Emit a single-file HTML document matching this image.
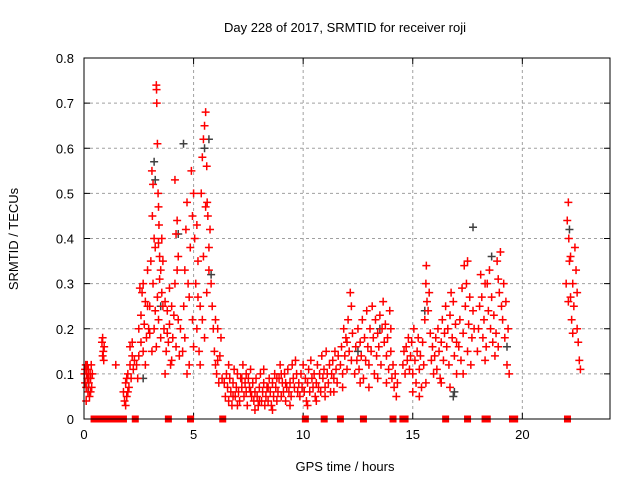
<!DOCTYPE html>
<html><head><meta charset="utf-8"><style>
html,body{margin:0;padding:0;background:#fff;}
svg{display:block;font-family:"Liberation Sans",sans-serif;}
</style></head><body>
<svg id="chart" width="640" height="480">
<rect width="640" height="480" fill="#fff"/>
<text x="345" y="32" text-anchor="middle" font-size="13">Day 228 of 2017, SRMTID for receiver roji</text>
<text x="345" y="471" text-anchor="middle" font-size="13">GPS time / hours</text>
<text transform="translate(18,239) rotate(-90)" text-anchor="middle" font-size="13">SRMTID / TECUs</text>
<g id="grid"></g>
<g id="ticks"></g>
<g id="black"></g>
<g id="red"></g>
<rect x="84" y="58" width="526" height="361" fill="none" stroke="#000" stroke-width="1"/>
</svg>
<script>
const xTicks=[0,5,10,15,20];
const yTicks=[0,0.1,0.2,0.3,0.4,0.5,0.6,0.7,0.8];
const yTickLabels=["0","0.1","0.2","0.3","0.4","0.5","0.6","0.7","0.8"];
const redPts=[0.02,.1,0.05,.08,0.08,.12,0.1,.07,0.12,.1,0.15,.09,0.18,.06,0.2,.11,0.22,.08,0.25,.05,0.28,.1,0.3,.09,0.33,.12,0.35,.07,0.38,.1,0.1,.04,0.05,.11,0.2,.09,0.3,.06,0.15,.12,
0.82,.17,0.85,.14,0.88,.15,0.9,.13,0.85,.18,0.92,.16,1.45,.12,
1.8,.06,1.85,.04,1.9,.08,1.95,.05,2.0,.1,2.05,.07,2.1,.12,2.15,.09,2.2,.14,2.25,.11,1.9,.03,2.0,.06,2.1,.16,2.2,.17,1.95,.09,2.3,.13,
2.4,.12,2.5,.2,2.55,.29,2.6,.17,2.65,.28,2.7,.15,2.75,.21,2.8,.26,2.85,.18,2.9,.25,2.5,.14,2.6,.23,2.7,.3,2.8,.12,2.9,.33,2.45,.09,2.95,.2,
3.0,.25,3.05,.35,3.1,.55,3.12,.45,3.15,.3,3.2,.4,3.25,.38,3.3,.74,3.31,.73,3.32,.7,3.35,.61,3.38,.5,3.4,.47,3.42,.43,3.45,.36,3.5,.33,3.55,.28,3.6,.25,3.2,.2,3.3,.16,3.4,.22,3.5,.18,3.35,.27,3.45,.31,3.25,.24,3.1,.15,3.55,.4,3.6,.35,3.15,.52,3.4,.39,3.0,.19,
3.65,.2,3.7,.26,3.75,.15,3.8,.24,3.85,.17,3.9,.21,3.95,.12,4.0,.25,4.05,.18,4.1,.23,4.15,.3,4.2,.41,4.25,.44,4.3,.36,4.35,.14,4.4,.2,3.7,.1,3.9,.29,4.0,.13,4.2,.16,4.3,.22,4.15,.53,4.25,.33,3.8,.19,
4.5,.15,4.55,.25,4.6,.18,4.65,.42,4.7,.48,4.75,.3,4.8,.12,4.85,.38,4.9,.55,4.95,.22,5.0,.5,4.6,.33,4.7,.1,4.8,.27,4.95,.45,5.0,.16,
5.05,.4,5.1,.3,5.15,.2,5.2,.35,5.25,.15,5.3,.25,5.35,.5,5.4,.58,5.45,.62,5.5,.65,5.55,.68,5.6,.56,5.62,.48,5.65,.45,5.7,.38,5.75,.42,5.8,.3,5.85,.25,5.9,.2,5.3,.12,5.4,.22,5.5,.18,5.6,.28,5.7,.33,5.2,.27,5.45,.36,5.55,.47,5.15,.43,
5.95,.15,6.0,.12,6.05,.1,6.1,.2,6.15,.08,6.2,.14,6.25,.18,6.3,.09,6.0,.22,6.1,.13,
6.4,.08,6.45,.05,6.5,.1,6.55,.07,6.6,.04,6.65,.09,6.7,.06,6.75,.03,6.8,.08,6.85,.11,6.9,.05,6.95,.07,7.0,.1,7.05,.06,7.1,.04,7.15,.09,7.2,.07,7.25,.12,7.3,.05,7.35,.08,7.4,.06,7.45,.03,7.5,.09,7.55,.07,7.6,.11,7.65,.05,7.7,.08,7.75,.04,7.8,.06,7.85,.09,7.9,.05,7.95,.03,8.0,.07,8.05,.1,8.1,.04,8.15,.06,8.2,.08,8.25,.03,8.3,.05,8.35,.07,8.4,.04,8.45,.09,8.5,.06,8.55,.03,8.6,.08,8.65,.05,8.7,.1,8.75,.07,8.8,.04,8.85,.06,8.9,.09,8.95,.12,9.0,.05,9.05,.08,9.1,.06,9.15,.1,9.2,.04,9.25,.07,9.3,.11,9.35,.06,9.4,.08,9.45,.05,9.5,.12,9.55,.09,9.6,.07,9.65,.13,9.7,.1,9.75,.06,6.6,.12,7.0,.03,7.4,.1,7.8,.02,8.2,.11,8.6,.02,9.0,.1,9.4,.03,6.8,.05,7.2,.09,7.6,.06,8.0,.04,8.4,.07,8.8,.09,9.2,.08,
9.8,.08,9.85,.05,9.9,.1,9.95,.07,10.0,.12,10.05,.06,10.1,.09,10.15,.04,10.2,.08,10.25,.11,10.3,.06,10.35,.13,10.4,.09,10.45,.07,10.5,.1,10.55,.05,10.6,.08,10.65,.12,10.7,.07,10.75,.1,10.8,.06,10.85,.14,10.9,.09,10.95,.11,11.0,.07,11.05,.15,11.1,.1,11.15,.08,11.2,.12,11.25,.06,11.3,.1,11.35,.13,11.4,.09,11.45,.15,11.5,.11,11.55,.08,11.6,.14,10.2,.03,10.6,.04,11.0,.05,11.4,.06,
11.7,.12,11.75,.16,11.8,.1,11.85,.2,11.9,.14,11.95,.18,12.0,.11,12.05,.22,12.1,.15,12.15,.28,12.2,.25,12.25,.19,11.8,.07,12.0,.17,12.2,.13,
12.35,.1,12.4,.16,12.45,.13,12.5,.2,12.55,.11,12.6,.17,12.65,.14,12.7,.22,12.75,.09,12.8,.18,12.85,.13,12.9,.24,12.95,.16,13.0,.12,13.05,.2,13.1,.15,13.15,.25,13.2,.18,13.25,.1,13.3,.22,13.35,.14,13.4,.19,13.45,.16,13.5,.23,13.55,.12,13.6,.2,13.65,.26,13.7,.17,13.75,.21,13.8,.14,13.85,.18,13.9,.11,13.95,.24,14.0,.15,14.05,.09,14.1,.12,14.15,.07,14.2,.1,14.25,.05,14.3,.08,12.6,.08,13.0,.07,13.4,.09,13.8,.08,14.0,.2,
14.55,.12,14.6,.15,14.65,.1,14.7,.16,14.75,.13,14.8,.18,14.85,.11,14.9,.14,14.95,.17,15.0,.1,15.05,.2,15.1,.13,15.15,.08,15.2,.15,15.25,.18,15.3,.11,15.35,.14,15.4,.07,15.45,.17,15.5,.12,15.55,.22,15.6,.3,15.62,.34,15.65,.26,15.7,.24,15.75,.28,15.8,.19,15.85,.13,15.9,.16,15.95,.1,15.0,.06,15.3,.05,15.6,.08,
16.0,.14,16.05,.18,16.1,.11,16.15,.2,16.2,.15,16.25,.09,16.3,.17,16.35,.22,16.4,.13,16.45,.19,16.5,.25,16.55,.16,16.6,.2,16.65,.12,16.7,.23,16.75,.28,16.8,.18,16.85,.26,16.9,.14,16.95,.21,17.0,.17,16.3,.08,16.7,.07,17.0,.1,
17.1,.16,17.15,.22,17.2,.13,17.25,.29,17.3,.19,17.35,.34,17.4,.25,17.45,.3,17.5,.15,17.55,.21,17.6,.27,17.65,.12,17.7,.18,17.75,.24,17.8,.2,17.3,.1,17.5,.35,
17.95,.15,18.0,.2,18.05,.25,18.1,.32,18.15,.27,18.2,.18,18.25,.22,18.3,.13,18.35,.16,18.4,.3,18.45,.24,18.5,.33,18.55,.2,18.6,.27,18.65,.17,18.7,.23,18.75,.14,18.8,.19,18.85,.35,18.9,.31,18.95,.28,19.0,.37,19.05,.25,19.1,.22,19.15,.3,19.2,.18,19.25,.26,19.3,.12,19.35,.2,19.4,.1,18.3,.3,18.9,.16,
22.0,.3,22.05,.44,22.1,.48,22.12,.4,22.15,.35,22.2,.27,22.25,.22,22.3,.3,22.35,.25,22.4,.38,22.45,.33,22.5,.2,22.55,.17,22.6,.13,22.65,.11,22.1,.26,22.3,.19,22.5,.28,22.2,.36];
const zeroTimes=[0.46,0.52,0.58,0.64,0.7,1.0,1.1,1.2,1.3,1.4,1.5,1.6,1.7,1.8,2.34,3.85,4.86,6.33,10.1,10.96,11.7,12.75,14.1,14.55,14.65,16.5,17.5,18.3,18.4,19.55,19.65,22.06];
const blackPts=[3.2,.57,3.25,.53,4.54,.61,4.3,.41,5.5,.6,5.7,.62,17.75,.425,15.55,.24,16.85,.05,16.9,.06,22.15,.42,18.6,.36,19.3,.16,2.7,.09,3.5,.25,5.8,.32,0.2,.07,12.5,.15,13.5,.2];

const X0=84,X1=610,Y0=419,Y1=58;
function sx(v){return X0+(v/24)*(X1-X0);}
function sy(v){return Y0-(v/0.8)*(Y0-Y1);}
const NS="http://www.w3.org/2000/svg";
function mk(tag,attrs,parent){const e=document.createElementNS(NS,tag);for(const k in attrs)e.setAttribute(k,attrs[k]);parent.appendChild(e);return e;}
const grid=document.getElementById('grid'),ticks=document.getElementById('ticks');
xTicks.forEach((t,i)=>{const x=sx(t);
 if(t>0){const g=mk('line',{x1:x,x2:x,y1:Y1,y2:Y0,stroke:'#a0a0a0','stroke-dasharray':'3,3'},grid);
 
 }
 const a=mk('line',{x1:x,x2:x,y1:Y0,y2:Y0-6,stroke:'#000'},ticks);
 
 
 const b=mk('line',{x1:x,x2:x,y1:Y1,y2:Y1+6,stroke:'#000'},ticks);
 
 
 const l=mk('text',{x:x,y:Y0+20,'text-anchor':'middle','font-size':'13'},ticks);l.textContent=String(t);
 
 
});
yTicks.forEach((t,i)=>{const y=sy(t);
 if(t>0&&t<0.8){const g=mk('line',{x1:X0,x2:X1,y1:y,y2:y,stroke:'#a0a0a0','stroke-dasharray':'3,3'},grid);
 
 }
 const a=mk('line',{x1:X0,x2:X0+6,y1:y,y2:y,stroke:'#000'},ticks);
 
 
 const b=mk('line',{x1:X1,x2:X1-6,y1:y,y2:y,stroke:'#000'},ticks);
 
 
 const l=mk('text',{x:X0-10,y:y+5,'text-anchor':'end','font-size':'13'},ticks);l.textContent=yTickLabels[i];
 
 
});
function plus(g,t,v,col){const x=sx(t),y=sy(v);
 const p=mk('path',{d:`M${x-4},${y}h8M${x},${y-4}v8`,stroke:col,'stroke-width':'1.5'},g);
 
 }
const gb=document.getElementById('black'),gr=document.getElementById('red');
for(let i=0;i<blackPts.length;i+=2)plus(gb,blackPts[i],blackPts[i+1],'#404040');
for(let i=0;i<redPts.length;i+=2)plus(gr,redPts[i],redPts[i+1],'#ff0000');
zeroTimes.forEach(t=>{const x=sx(t);
 const r=mk('rect',{x:x-3.5,y:Y0-3.5,width:7,height:7,fill:'#ff0000'},gr);
 
 });
</script>
</body></html>
